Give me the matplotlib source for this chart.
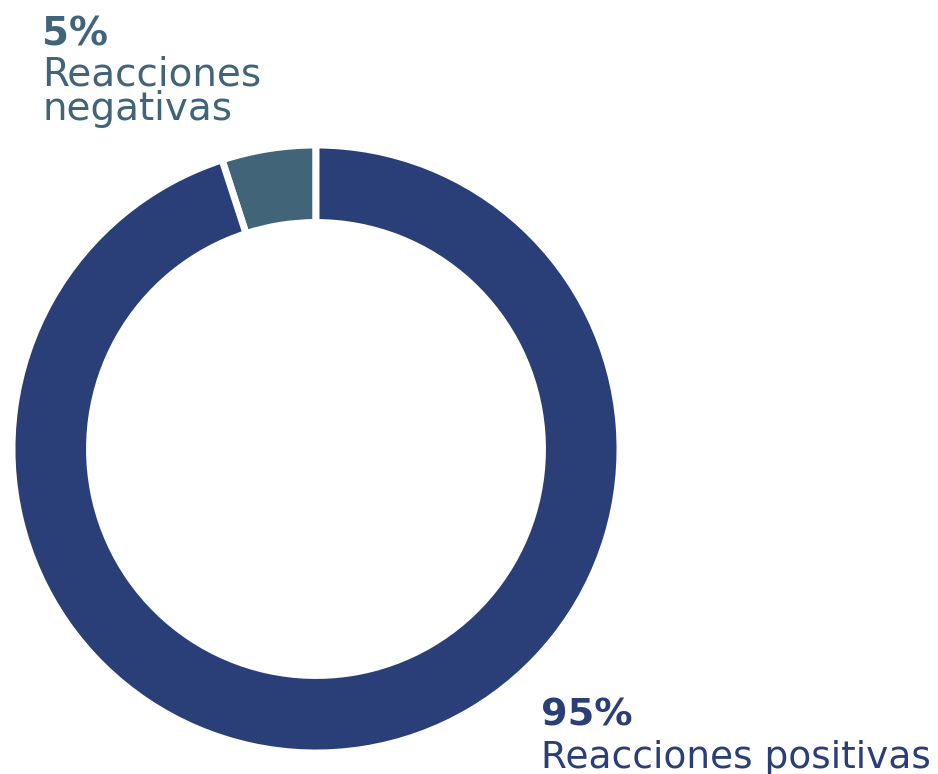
import matplotlib.pyplot as plt

# data
labels = ["Reacciones negativas", "Reacciones positivas"]
values = [5, 95]
pct_labels = ["5%", "95%"]
colors = ["#416478", "#2A3F78"]

W, H = 938, 774
fig = plt.figure(figsize=(W / 100, H / 100), dpi=100)

cx, cy, R = 316, 449, 304
ax = fig.add_axes([(cx - R) / W, (H - cy - R) / H, 2 * R / W, 2 * R / H])
ax.pie(values, colors=colors, startangle=90, counterclock=True,
       radius=1.0, wedgeprops=dict(width=0.255, edgecolor="white", linewidth=5))
ax.set_xlim(-1, 1)
ax.set_ylim(-1, 1)
ax.set_aspect("equal")
ax.axis("off")

font = "DejaVu Sans"

def put(x, baseline, s, color, size, weight="normal"):
    fig.text(x / W, 1 - baseline / H, s, color=color, fontsize=size,
             fontweight=weight, family=font, va="baseline", ha="left")

# negative label (top-left)
put(42, 46, pct_labels[0], colors[0], 28, "bold")
put(42, 85, "Reacciones", colors[0], 28)
put(42, 120, "negativas", colors[0], 28)

# positive label (bottom-right)
put(541, 725, pct_labels[1], colors[1], 27.5, "bold")
put(541, 768, labels[1], colors[1], 27)

fig.savefig("out.png", dpi=100)
